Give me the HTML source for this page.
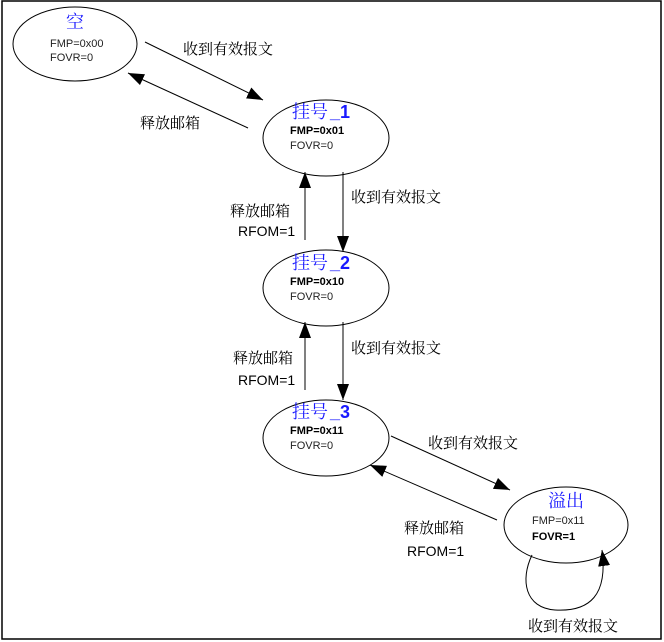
<!DOCTYPE html>
<html><head><meta charset="utf-8"><style>
html,body{margin:0;padding:0;background:#fff}
svg{display:block}
text{font-family:"Liberation Sans","Noto Sans CJK SC",sans-serif}
.cj{font-family:"Noto Serif CJK SC","Noto Sans CJK SC",serif;font-size:15px}
.t{font-size:11px;fill:#222}
.b{font-size:11px;font-weight:bold;fill:#000}
.h{font-family:"Noto Serif CJK SC",serif;font-size:18px;fill:#1a1aff}
.hb{font-family:"Liberation Sans",sans-serif;font-size:18px;font-weight:bold;fill:#1a1aff}
</style></head><body>
<svg width="664" height="642" viewBox="0 0 664 642">
<defs><marker id="a" viewBox="0 0 10 10" refX="10" refY="5" markerWidth="14" markerHeight="14" markerUnits="userSpaceOnUse" orient="auto"><path d="M0,0 L10,5 L0,10z" fill="#000"/></marker>
<marker id="a2" viewBox="0 0 10 10" refX="10" refY="5" markerWidth="16" markerHeight="12" markerUnits="userSpaceOnUse" orient="auto" preserveAspectRatio="none"><path d="M0,0 L10,5 L0,10z" fill="#000"/></marker></defs>
<rect x="2" y="1" width="659" height="638" fill="none" stroke="#000" stroke-width="1.5"/>
<g fill="none" stroke="#000" stroke-width="1">
<ellipse cx="75" cy="44" rx="62" ry="37"/>
<ellipse cx="326" cy="138" rx="63" ry="38"/>
<ellipse cx="326" cy="288" rx="63" ry="38"/>
<ellipse cx="326" cy="438" rx="63" ry="38"/>
<ellipse cx="566" cy="525" rx="62" ry="38"/>
<line x1="145" y1="42" x2="263" y2="100" marker-end="url(#a2)"/>
<line x1="248" y1="128" x2="128" y2="73" marker-end="url(#a2)"/>
<line x1="305" y1="240" x2="305" y2="172" marker-end="url(#a2)"/>
<line x1="343" y1="172" x2="343" y2="252" marker-end="url(#a2)"/>
<line x1="305" y1="390" x2="305" y2="322" marker-end="url(#a2)"/>
<line x1="343" y1="322" x2="343" y2="400" marker-end="url(#a2)"/>
<line x1="391" y1="436" x2="510" y2="490" marker-end="url(#a2)"/>
<line x1="497" y1="520" x2="370" y2="465" marker-end="url(#a2)"/>
<path d="M532,555 C520,580 525,608 555,610 C590,612 608,595 602,550" marker-end="url(#a2)"/>
</g>
<text x="75" y="28" text-anchor="middle" class="h">空</text>
<text x="50" y="47" class="t">FMP=0x00</text>
<text x="50" y="61" class="t">FOVR=0</text>
<text x="292" y="118" class="h">挂号</text><text x="330" y="118" class="hb">_1</text>
<text x="290" y="134" class="b">FMP=0x01</text>
<text x="290" y="149" class="t">FOVR=0</text>
<text x="292" y="269" class="h">挂号</text><text x="330" y="269" class="hb">_2</text>
<text x="290" y="285" class="b">FMP=0x10</text>
<text x="290" y="300" class="t">FOVR=0</text>
<text x="292" y="418" class="h">挂号</text><text x="330" y="418" class="hb">_3</text>
<text x="290" y="434" class="b">FMP=0x11</text>
<text x="290" y="449" class="t">FOVR=0</text>
<text x="566" y="507" text-anchor="middle" class="h">溢出</text>
<text x="532" y="524" class="t">FMP=0x11</text>
<text x="532" y="540" class="b">FOVR=1</text>
<text x="183" y="54" class="cj">收到有效报文</text>
<text x="140" y="128" class="cj">释放邮箱</text>
<text x="351" y="202" class="cj">收到有效报文</text>
<text x="230" y="216" class="cj">释放邮箱</text>
<text x="238" y="236" font-size="14">RFOM=1</text>
<text x="351" y="353" class="cj">收到有效报文</text>
<text x="233" y="363" class="cj">释放邮箱</text>
<text x="238" y="385" font-size="14">RFOM=1</text>
<text x="428" y="448" class="cj">收到有效报文</text>
<text x="404" y="533" class="cj">释放邮箱</text>
<text x="407" y="556" font-size="14">RFOM=1</text>
<text x="528" y="631" class="cj">收到有效报文</text>
</svg>
</body></html>
